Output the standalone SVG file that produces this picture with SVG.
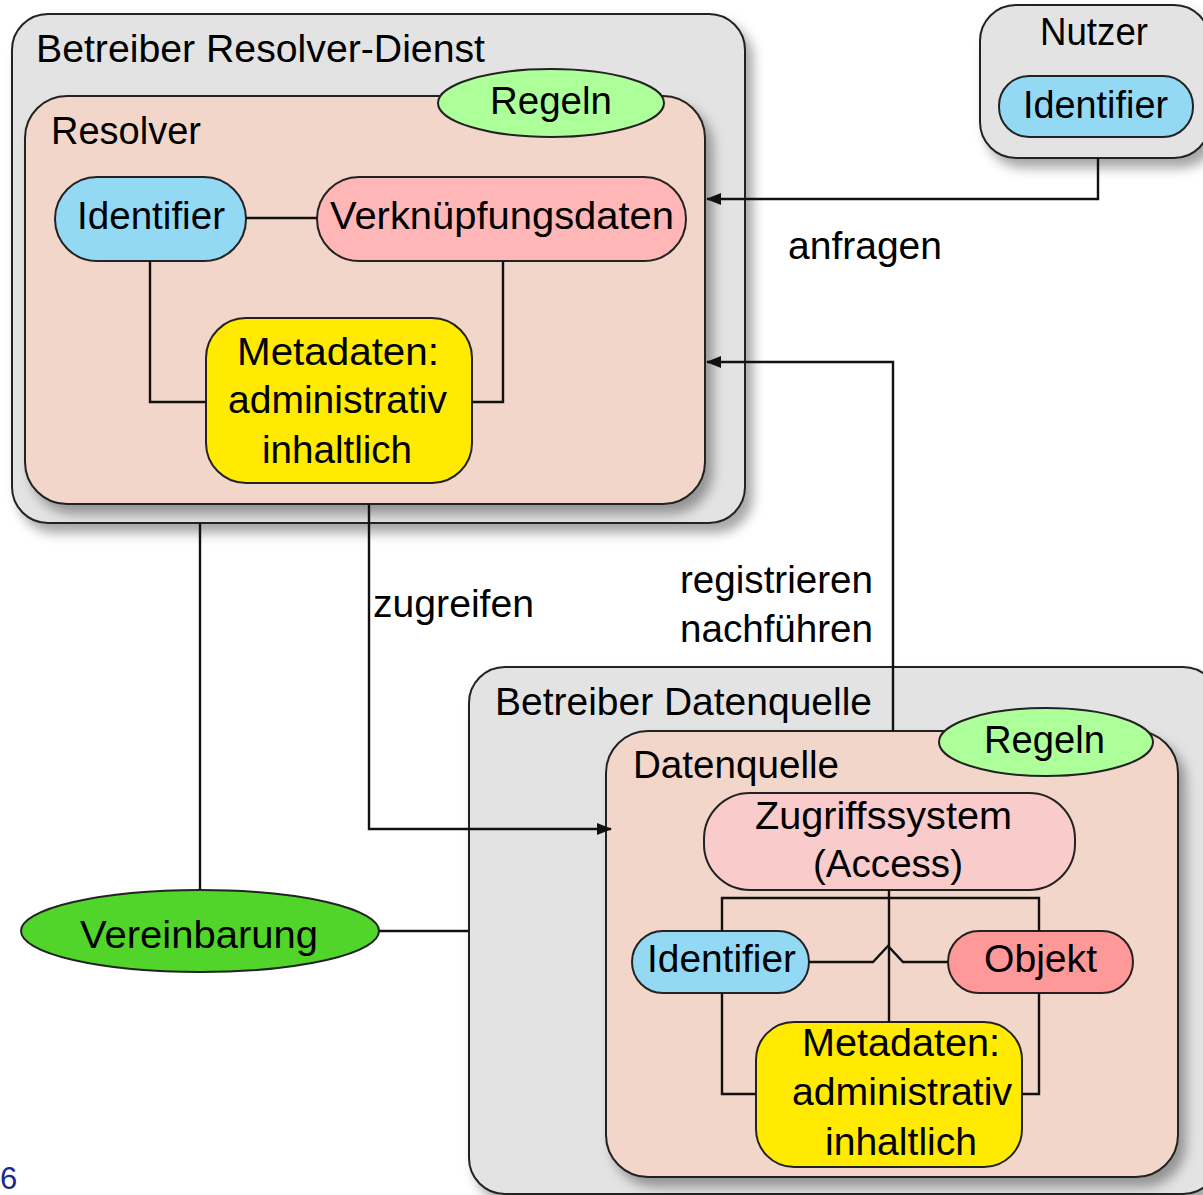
<svg xmlns="http://www.w3.org/2000/svg" width="1203" height="1195" viewBox="0 0 1203 1195">
<defs>
<filter id="sh" x="-10%" y="-10%" width="130%" height="130%">
<feDropShadow dx="7" dy="9" stdDeviation="6" flood-color="#000" flood-opacity="0.35"/>
</filter>
<marker id="ah" markerWidth="15" markerHeight="12" refX="14" refY="6" orient="auto" markerUnits="userSpaceOnUse">
<path d="M0,0 L15,6 L0,12 Z" fill="#111"/>
</marker>
<style>
text{font-family:"Liberation Sans",Arial,sans-serif;font-size:38px;fill:#000}
.box{stroke:#222;stroke-width:2}
.outer{fill:#e3e3e3}
.inner{fill:#f2d6c9}
.regeln{fill:#adff9a}
.ident{fill:#93d9f4}
.meta{fill:#ffea00}
.conn{fill:none;stroke:#111;stroke-width:2.4}
</style>
</defs>
<rect width="1203" height="1195" fill="#fff"/>

<g id="betreiber-resolver-dienst">
<rect class="box outer" x="12" y="14" width="733" height="509" rx="36" filter="url(#sh)"/>
<text x="36" y="62" textLength="449" lengthAdjust="spacingAndGlyphs">Betreiber Resolver-Dienst</text>
</g>
<g id="resolver">
<rect class="box inner" x="25" y="96" width="680" height="408" rx="42" filter="url(#sh)"/>
<text x="51" y="144" textLength="150" lengthAdjust="spacingAndGlyphs">Resolver</text>
</g>
<g id="regeln-resolver">
<ellipse class="box regeln" cx="551" cy="103" rx="113" ry="34"/>
<text x="490" y="114" textLength="122" lengthAdjust="spacingAndGlyphs">Regeln</text>
</g>
<g id="identifier-resolver">
<rect class="box ident" x="55" y="177" width="191" height="84" rx="42"/>
<text x="77" y="229" textLength="148" lengthAdjust="spacingAndGlyphs">Identifier</text>
</g>
<g id="verknuepfungsdaten">
<rect class="box" fill="#ffb6b6" x="317" y="177" width="369" height="84" rx="42"/>
<text x="330" y="229" textLength="344" lengthAdjust="spacingAndGlyphs">Verknüpfungsdaten</text>
</g>
<g id="metadaten-resolver">
<rect class="box meta" x="206" y="318" width="266" height="165" rx="40"/>
<text x="237" y="365" textLength="202" lengthAdjust="spacingAndGlyphs">Metadaten:</text>
<text x="228" y="413" textLength="219" lengthAdjust="spacingAndGlyphs">administrativ</text>
<text x="262" y="463" textLength="150" lengthAdjust="spacingAndGlyphs">inhaltlich</text>
</g>

<g id="nutzer">
<rect class="box outer" x="980" y="5" width="230" height="153" rx="36" filter="url(#sh)"/>
<text x="1040" y="45" textLength="108" lengthAdjust="spacingAndGlyphs">Nutzer</text>
</g>
<g id="identifier-nutzer">
<rect class="box ident" x="999" y="76" width="194" height="61" rx="30"/>
<text x="1023" y="118" textLength="145" lengthAdjust="spacingAndGlyphs">Identifier</text>
</g>

<g id="betreiber-datenquelle">
<rect class="box outer" x="469" y="667" width="750" height="527" rx="36" filter="url(#sh)"/>
<text x="495" y="715" textLength="377" lengthAdjust="spacingAndGlyphs">Betreiber Datenquelle</text>
</g>
<g id="datenquelle">
<rect class="box inner" x="606" y="731" width="572" height="446" rx="42" filter="url(#sh)"/>
<text x="633" y="778" textLength="206" lengthAdjust="spacingAndGlyphs">Datenquelle</text>
</g>
<g id="regeln-datenquelle">
<ellipse class="box regeln" cx="1046" cy="742" rx="107" ry="34"/>
<text x="984" y="753" textLength="121" lengthAdjust="spacingAndGlyphs">Regeln</text>
</g>
<g id="zugriffssystem">
<rect class="box" fill="#f9cbcb" x="704" y="793" width="371" height="97" rx="46"/>
<text x="755" y="829" textLength="257" lengthAdjust="spacingAndGlyphs">Zugriffssystem</text>
<text x="813" y="877" textLength="150" lengthAdjust="spacingAndGlyphs">(Access)</text>
</g>
<g id="identifier-datenquelle">
<rect class="box ident" x="632" y="931" width="177" height="62" rx="31"/>
<text x="647" y="972" textLength="149" lengthAdjust="spacingAndGlyphs">Identifier</text>
</g>
<g id="objekt">
<rect class="box" fill="#ff9999" x="948" y="931" width="185" height="62" rx="31"/>
<text x="984" y="972" textLength="113" lengthAdjust="spacingAndGlyphs">Objekt</text>
</g>
<g id="metadaten-datenquelle">
<rect class="box meta" x="756" y="1022" width="266" height="145" rx="38"/>
<text x="802" y="1056" textLength="198" lengthAdjust="spacingAndGlyphs">Metadaten:</text>
<text x="792" y="1105" textLength="220" lengthAdjust="spacingAndGlyphs">administrativ</text>
<text x="825" y="1155" textLength="152" lengthAdjust="spacingAndGlyphs">inhaltlich</text>
</g>

<g id="vereinbarung">
<ellipse class="box" fill="#52d52a" cx="200" cy="931" rx="179" ry="41"/>
<text x="80" y="948" textLength="238" lengthAdjust="spacingAndGlyphs">Vereinbarung</text>
</g>

<g id="connectors">
<path class="conn" d="M246,218 H317"/>
<path class="conn" d="M150,261 V402 H206"/>
<path class="conn" d="M503,261 V402 H472"/>
<path class="conn" d="M1098,158 V199 H707" marker-end="url(#ah)"/>
<path class="conn" d="M893,731 V362 H707" marker-end="url(#ah)"/>
<path class="conn" d="M369,504 V829 H611" marker-end="url(#ah)"/>
<path class="conn" d="M200,523 V890"/>
<path class="conn" d="M379,931 H469"/>
<path class="conn" d="M889,890 V1022"/>
<path class="conn" d="M722,931 V898 H1039 V931"/>
<path class="conn" d="M809,962 H873 L888,946 L903,962 H948"/>
<path class="conn" d="M722,993 V1094 H756"/>
<path class="conn" d="M1039,993 V1094 H1022"/>
</g>

<g id="labels">
<text x="788" y="259" textLength="154" lengthAdjust="spacingAndGlyphs">anfragen</text>
<text x="680" y="593" textLength="193" lengthAdjust="spacingAndGlyphs">registrieren</text>
<text x="680" y="642" textLength="193" lengthAdjust="spacingAndGlyphs">nachführen</text>
<text x="373" y="617" textLength="161" lengthAdjust="spacingAndGlyphs">zugreifen</text>
<text x="0" y="1189" style="fill:#1a2a8a;font-size:31px">6</text>
</g>
</svg>
